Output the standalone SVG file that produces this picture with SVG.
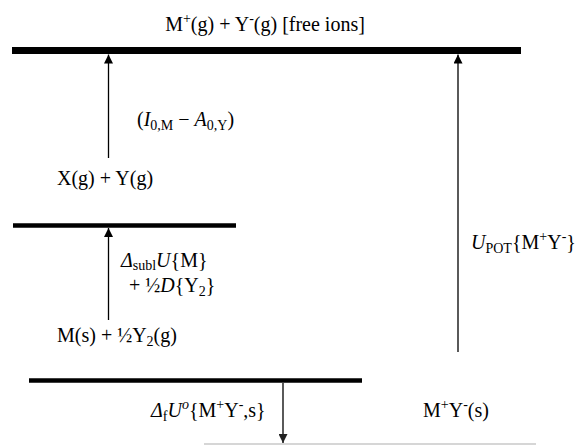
<svg xmlns="http://www.w3.org/2000/svg" width="579" height="446" viewBox="0 0 579 446">
  <style>
    text { font-family: "Liberation Serif", "Times New Roman", serif; font-size: 20px; fill: #000; }
    .it { font-style: italic; }
    .s { font-size: 14px; }
    .bar { stroke: #000; fill: none; }
    .conn { stroke: #000; stroke-width: 1.3; fill: none; }
  </style>
  <defs>
    <marker id="ah" viewBox="0 0 10 10" refX="10" refY="5" markerWidth="9" markerHeight="9" markerUnits="userSpaceOnUse" orient="auto">
      <path d="M0,0 L10,5 L0,10 Z" fill="#000"/>
    </marker>
    <marker id="ahd" viewBox="0 0 10 10" refX="10" refY="5" markerWidth="9" markerHeight="9" markerUnits="userSpaceOnUse" orient="auto">
      <path d="M0,0 L10,5 L0,10 Z" fill="#222"/>
    </marker>
  </defs>

  <g id="level-free-ions">
    <line class="bar" x1="12" y1="50.5" x2="521" y2="50.5" stroke-width="7"/>
    <text x="265" y="31" text-anchor="middle">M<tspan class="s" dy="-8">+</tspan><tspan dy="8">(g) + Y</tspan><tspan class="s" dy="-8">-</tspan><tspan dy="8">(g) [free ions]</tspan></text>
  </g>

  <g id="state-atoms">
    <text x="57" y="185">X(g) + Y(g)</text>
  </g>

  <g id="level-elements">
    <line class="bar" x1="13" y1="225.5" x2="236" y2="225.5" stroke-width="4.5"/>
    <text x="57" y="342">M(s) + ½Y<tspan class="s" dy="4">2</tspan><tspan dy="-4">(g)</tspan></text>
  </g>

  <g id="level-solid">
    <line class="bar" x1="29" y1="380.5" x2="362" y2="380.5" stroke-width="4.5"/>
    <line x1="204" y1="444" x2="536" y2="444" stroke="#c8c8c8" stroke-width="1.5"/>
  </g>

  <g id="state-solid">
    <text x="423" y="417">M<tspan class="s" dy="-8">+</tspan><tspan dy="8">Y</tspan><tspan class="s" dy="-8">-</tspan><tspan dy="8">(s)</tspan></text>
  </g>

  <g id="connectors">
    <line class="conn" x1="108.5" y1="158" x2="108.5" y2="54.5" marker-end="url(#ah)"/>
    <line class="conn" x1="108.5" y1="320" x2="108.5" y2="228" marker-end="url(#ah)"/>
    <line class="conn" x1="458" y1="352" x2="458" y2="54.5" marker-end="url(#ah)"/>
    <line class="conn" x1="283" y1="383" x2="283" y2="443" stroke="#333" marker-end="url(#ahd)"/>
  </g>

  <g id="labels">
    <text x="137" y="126">(<tspan class="it">I</tspan><tspan class="s" dy="4">0,M</tspan><tspan dy="-4"> − </tspan><tspan class="it">A</tspan><tspan class="s" dy="4">0,Y</tspan><tspan dy="-4">)</tspan></text>
    <text x="121" y="267"><tspan class="it">Δ</tspan><tspan class="s" dy="3">subl</tspan><tspan class="it" dy="-3">U</tspan>{M}</text>
    <text x="129" y="292">+ ½<tspan class="it">D</tspan>{Y<tspan class="s" dy="4">2</tspan><tspan dy="-4">}</tspan></text>
    <text x="151" y="417"><tspan class="it">Δ</tspan><tspan class="s" dy="4">f</tspan><tspan class="it" dy="-4">U</tspan><tspan class="s it" dy="-8">o</tspan><tspan dy="8">{M</tspan><tspan class="s" dy="-8">+</tspan><tspan dy="8">Y</tspan><tspan class="s" dy="-8">-</tspan><tspan dy="8">,s}</tspan></text>
    <text x="471" y="249"><tspan class="it">U</tspan><tspan class="s" dy="4">POT</tspan><tspan dy="-4">{M</tspan><tspan class="s" dy="-8">+</tspan><tspan dy="8">Y</tspan><tspan class="s" dy="-8">-</tspan><tspan dy="8">}</tspan></text>
  </g>
</svg>
